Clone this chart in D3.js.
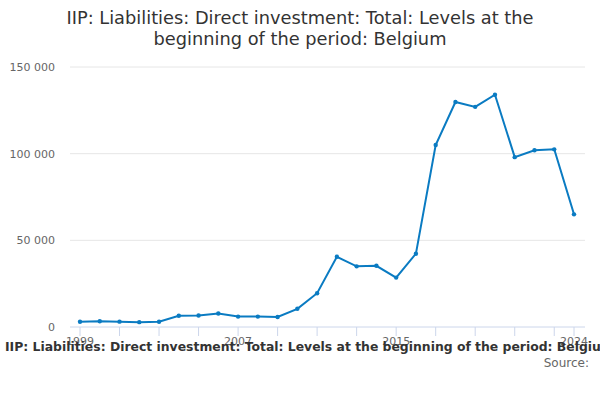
<!DOCTYPE html>
<html><head><meta charset="utf-8">
<script src="https://cdn.jsdelivr.net/npm/d3@7"></script>
<style>body{margin:0;background:#fff;font-family:"DejaVu Sans",sans-serif;}</style>
</head><body><svg id="c" width="600" height="400"></svg>
<script>
const years=d3.range(1999,2025);
const values=[3000,3300,3100,2800,3000,6500,6600,7800,6000,6000,5800,10500,19500,40500,35000,35300,28500,42300,105000,129800,127000,134000,98000,102000,102500,65000];
const yTicks=[0,50000,100000,150000];
const xLabels=[1999,2007,2015,2024];
const svg=d3.select("#c");
const x=d3.scaleLinear().domain([1999,2024]).range([80,574]);
const y=d3.scaleLinear().domain([0,150000]).range([327,67]);
const fmt=v=>d3.format(",")(v).replace(/,/g," ");
svg.append("text").attr("x",300).attr("y",24).attr("text-anchor","middle").attr("font-size",17.8).attr("fill","#333").text("IIP: Liabilities: Direct investment: Total: Levels at the");
svg.append("text").attr("x",300).attr("y",45).attr("text-anchor","middle").attr("font-size",17.8).attr("fill","#333").text("beginning of the period: Belgium");
yTicks.forEach(t=>{
 svg.append("line").attr("x1",70).attr("x2",585).attr("y1",y(t)).attr("y2",y(t)).attr("stroke",t===0?"#ccd6eb":"#e6e6e6");
 svg.append("text").attr("x",55).attr("y",y(t)+4).attr("text-anchor","end").attr("font-size",11).attr("fill","#666").text(fmt(t));
});
years.forEach(yr=>{ if((yr-1999)%2===0||yr===2024) svg.append("line").attr("x1",x(yr)).attr("x2",x(yr)).attr("y1",327).attr("y2",336).attr("stroke","#ccd6eb");});
xLabels.forEach(yr=>svg.append("text").attr("x",x(yr)).attr("y",345).attr("text-anchor","middle").attr("font-size",11).attr("fill","#666").text(yr));
const line=d3.line().x((d,i)=>x(years[i])).y(d=>y(d));
svg.append("path").attr("d",line(values)).attr("fill","none").attr("stroke","#0a7bc2").attr("stroke-width",2);
svg.selectAll("circle").data(values).join("circle").attr("cx",(d,i)=>x(years[i])).attr("cy",d=>y(d)).attr("r",2.2).attr("fill","#0a7bc2");
svg.append("text").attr("x",5).attr("y",351).attr("font-size",12.4).attr("font-weight","bold").attr("fill","#333").text("IIP: Liabilities: Direct investment: Total: Levels at the beginning of the period: Belgium");
svg.append("text").attr("x",589).attr("y",367).attr("text-anchor","end").attr("font-size",12).attr("fill","#666").text("Source:");
</script></body></html>
